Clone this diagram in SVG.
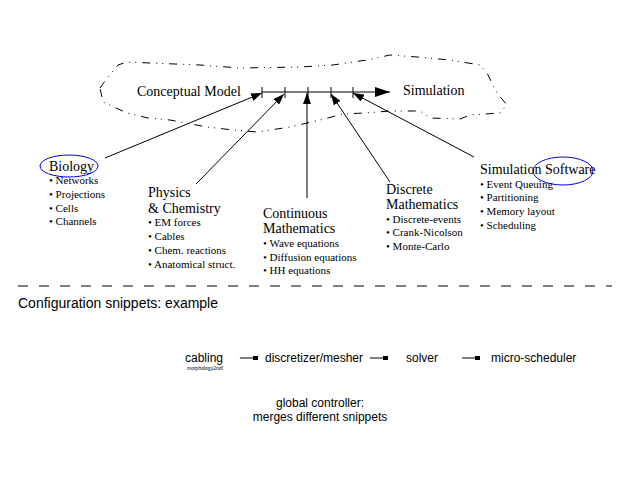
<svg xmlns="http://www.w3.org/2000/svg" width="640" height="480" viewBox="0 0 640 480">
<style>
.t{font-family:"Liberation Serif",serif;font-size:14px;fill:#000}
.b{font-family:"Liberation Serif",serif;font-size:11px;fill:#000}
.s{font-family:"Liberation Sans",Arial,sans-serif;font-size:12px;fill:#000}
.ln{stroke:#000;stroke-width:1;fill:none}
.hl{fill:none;stroke:#0000ff;stroke-width:1}
</style>
<defs>
<marker id="ah" markerUnits="userSpaceOnUse" markerWidth="12" markerHeight="8" refX="11" refY="4" orient="auto">
<path d="M0,0 L11,4 L0,8 Z" fill="#000"/>
</marker>
<marker id="big" markerUnits="userSpaceOnUse" markerWidth="16" markerHeight="10" refX="15" refY="5" orient="auto">
<path d="M0,0 L15,5 L0,10 Z" fill="#000"/>
</marker>
<marker id="sq" markerUnits="userSpaceOnUse" markerWidth="6" markerHeight="4" refX="5" refY="2" orient="auto">
<rect x="0" y="0" width="5" height="4" fill="#000"/>
</marker>
</defs>
<rect width="640" height="480" fill="#fff"/>
<g id="cloud">
<path d="M100,88 L107,78 L118,65 L127,62 L150,63 L200,65 L240,68 L300,67 L333,65 L367,60 L390,55 L417,57 L450,60 L480,65 L487,73 L497,93 L507,105 L500,113 L470,115 L460,119 L430,118 L420,111 L390,111 L365,113 L343,114 L320,120 L290,127 L257,132 L233,130 L207,127 L170,120 L148,118 L127,113 L103,102 Z" class="ln" stroke-dasharray="8 6 1 5 1 6"/>
<text class="t" x="137" y="96">Conceptual Model</text>
<text class="t" x="403" y="95">Simulation</text>
</g>
<g id="connectors">
<line class="ln" x1="262" y1="92" x2="390" y2="92" marker-end="url(#big)"/>
<path class="ln" d="M262,87 V98 M285,87 V98 M308,87 V98 M331,87 V98 M353,87 V98"/>
<line class="ln" x1="105" y1="158" x2="262" y2="93" marker-end="url(#ah)"/>
<line class="ln" x1="196" y1="184" x2="284" y2="94" marker-end="url(#ah)"/>
<line class="ln" x1="307" y1="198" x2="307" y2="93" marker-end="url(#ah)"/>
<line class="ln" x1="390" y1="182" x2="331" y2="94" marker-end="url(#ah)"/>
<line class="ln" x1="474" y1="157" x2="353" y2="93" marker-end="url(#ah)"/>
<line class="ln" x1="240" y1="358" x2="258" y2="358" marker-end="url(#sq)"/>
<line class="ln" x1="370" y1="358" x2="388" y2="358" marker-end="url(#sq)"/>
<line class="ln" x1="462" y1="358" x2="480" y2="358" marker-end="url(#sq)"/>
</g>
<g id="biology">
<ellipse class="hl" cx="69" cy="166" rx="29" ry="11"/>
<text class="t" x="49" y="171">Biology</text>
<text class="b" x="49" y="184">• Networks</text>
<text class="b" x="49" y="198">• Projections</text>
<text class="b" x="49" y="212">• Cells</text>
<text class="b" x="49" y="225">• Channels</text>
</g>
<g id="physics">
<text class="t" x="148" y="197">Physics</text>
<text class="t" x="148" y="213">&amp; Chemistry</text>
<text class="b" x="148" y="226">• EM forces</text>
<text class="b" x="148" y="240">• Cables</text>
<text class="b" x="148" y="254">• Chem. reactions</text>
<text class="b" x="148" y="268">• Anatomical struct.</text>
</g>
<g id="continuous">
<text class="t" x="263" y="218">Continuous</text>
<text class="t" x="263" y="233">Mathematics</text>
<text class="b" x="263" y="247">• Wave equations</text>
<text class="b" x="263" y="261">• Diffusion equations</text>
<text class="b" x="263" y="274">• HH equations</text>
</g>
<g id="discrete">
<text class="t" x="386" y="194">Discrete</text>
<text class="t" x="386" y="209">Mathematics</text>
<text class="b" x="386" y="223">• Discrete-events</text>
<text class="b" x="386" y="236">• Crank-Nicolson</text>
<text class="b" x="386" y="250">• Monte-Carlo</text>
</g>
<g id="simsoftware">
<ellipse class="hl" cx="563" cy="171" rx="30" ry="14"/>
<text class="t" x="480" y="174">Simulation Software</text>
<text class="b" x="480" y="188">• Event Queuing</text>
<text class="b" x="480" y="201">• Partitioning</text>
<text class="b" x="480" y="215">• Memory layout</text>
<text class="b" x="480" y="229">• Scheduling</text>
</g>
<g id="separator">
<line class="ln" x1="18" y1="286" x2="612" y2="286" stroke-dasharray="10 11"/>
<text class="s" style="font-size:14px" x="18" y="308">Configuration snippets: example</text>
</g>
<g id="cabling">
<text class="s" x="185" y="362">cabling</text>
<text class="s" style="font-size:5px" x="187" y="370">morphology2ndf</text>
</g>
<g id="mesher"><text class="s" x="265" y="362">discretizer/mesher</text></g>
<g id="solver"><text class="s" x="406" y="362">solver</text></g>
<g id="scheduler"><text class="s" x="491" y="362">micro-scheduler</text></g>
<g id="controller">
<text class="s" text-anchor="middle" x="320" y="407">global controller:</text>
<text class="s" text-anchor="middle" x="320" y="421">merges different snippets</text>
</g>
</svg>
